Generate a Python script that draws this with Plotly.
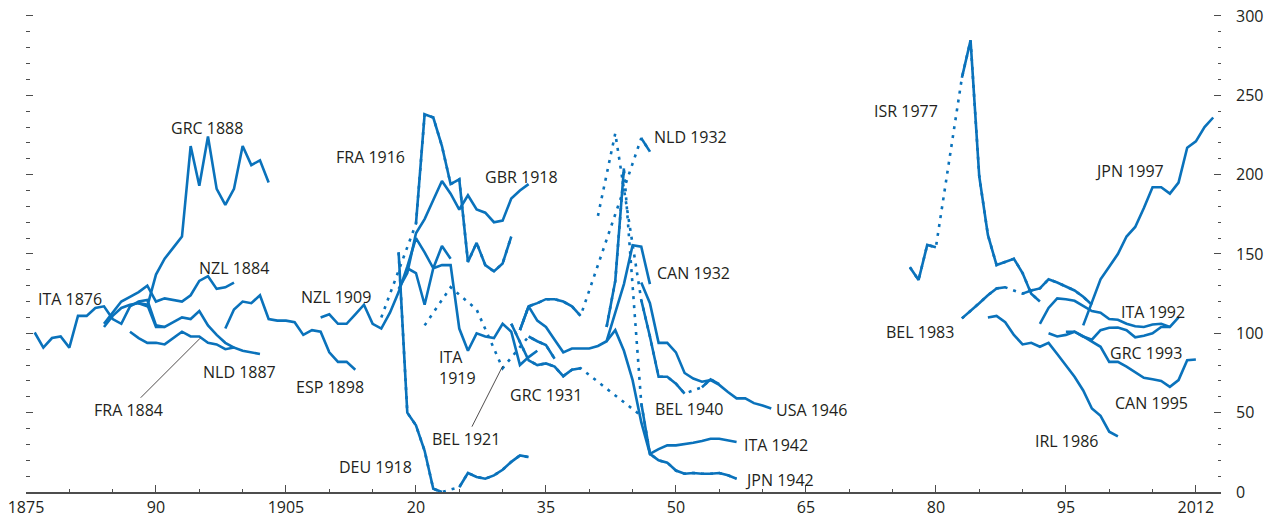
import plotly.graph_objects as go

# ---------------- data (public debt, % of GDP) ----------------
ITA_1876_start = 1876
ITA_1876 = [100.5, 91, 97, 98, 91, 111, 111, 116, 117, 109, 106, 117, 120, 121, 105, 104]
FRA_1884_start = 1884
FRA_1884 = [104, 111, 116, 118, 119, 118, 104, 104, 107, 110, 109, 114, 105, 99, 94, 91]
NZL_1884_start = 1884
NZL_1884 = [106, 113, 120, 123, 126, 130, 120, 122, 121, 120, 124, 133, 136, 128, 129, 132]
NLD_1887_start = 1887
NLD_1887 = [101, 97, 94, 94, 93, 97, 101, 98, 98, 94, 93, 90, 91, 89, 88, 87]
GRC_1888_start = 1888
GRC_1888 = [119, 117, 137, 147, 154, 161, 218, 193, 224, 191, 181, 191, 218, 206, 209, 195]
ESP_1898_start = 1898
ESP_1898 = [103, 115, 120, 119, 124, 109, 108, 108, 107, 99, 102, 101, 88, 82, 82, 77]
NZL_1909_start = 1909
NZL_1909 = [110, 112, 106, 106, 112, 118, 106, 103, 113, 126, 142, 160, 151, 141, 155, 147]
FRA_1916_start = 1916
FRA_1916 = [110, None, None, None, 169, 238, 236, 218, 194, 197, 145, 157, 143, 139, 144, 161]
GBR_1918_start = 1918
GBR_1918 = [128, 138, 163, 172, 184, 196, 188, 178, 187, 178, 176, 170, 171, 185, 190, 194]
DEU_1918_start = 1918
DEU_1918 = [151, 50, 42, 26, 2, 0, None, 3, 12, 9.5, 8.4, 10.5, 14, 19, 23, 22]
ITA_1919_start = 1919
ITA_1919 = [141, 138, 118, 141, 143, 143, 103, 89, 100, 98, 97, 106, 101, 80, 85, 89]
BEL_1921_start = 1921
BEL_1921 = [105, None, None, 129, None, None, 115, None, None, 78, None, None, 98, 95, 92.6, 84]
GRC_1931_start = 1931
GRC_1931 = [106, 95, 83, 80, 81, 79, 73, 77, 78, None, None, None, None, None, None, 48]
NLD_1932_start = 1932
NLD_1932 = [102, 117, 119, 121.5, 121.5, 120, 117, 111, None, None, None, None, None, None, 223, 214.5]
CAN_1932_start = 1932
CAN_1932 = [102, 117, 108, 104, 96, 88, 90.4, 90.4, 90.4, 92, 95, 113, 131, 155.5, 154.6, 131]
BEL_1940_start = 1940
BEL_1940 = [None, 174, None, 226, None, None, 121, 98, 72.6, 72.6, 68.3, 62, None, 66, 71, 68]
ITA_1942_start = 1942
ITA_1942 = [95, 102, 89, 70.5, 44, 24, 27, 29.4, 29.4, 30, 31, 32.2, 33.6, 33.6, 32.5, 31.5]
JPN_1942_start = 1942
JPN_1942 = [104, 133, 204, None, 56, 24, 20, 18.5, 13.5, 11.5, 12, 11.5, 11.5, 12, 10.5, 8.4]
USA_1946_start = 1946
USA_1946 = [132, 119, 94, 94, 88, 75, 71.5, 69.5, 70.5, 67.5, 63, 59, 59, 56, 54.5, 52.6]
ISR_1977_start = 1977
ISR_1977 = [141.6, 133.6, 155.7, 154.2, None, None, 261, 284.6, 199, 162, 143, 145, 147, 138, 125, 120]
BEL_1983_start = 1983
BEL_1983 = [109.4, 114, 119, 124, 128.3, 129, None, 125, 127, 128.3, 134, 132, 129.5, 127, 123, 118]
IRL_1986_start = 1986
IRL_1986 = [110, 111, 107, 99, 93, 94, 91.5, 94, 87, 80, 72.6, 64, 52.6, 48, 38, 35]
ITA_1992_start = 1992
ITA_1992 = [106, 116, 122, 121.5, 120.5, 117, 114, 113, 109, 108.5, 106, 104.5, 104, 105.5, 106, 104]
GRC_1993_start = 1993
GRC_1993 = [100, 98, 99, 101, 98, 96, 102, 103.5, 103.7, 102, 97.5, 98.5, 100, 104, 104, 110]
CAN_1995_start = 1995
CAN_1995 = [101, 101, 98, 95, 91.5, 82, 82, 79, 75.7, 72, 71, 70, 66.3, 70.5, 83, 83.5]
JPN_1997_start = 1997
JPN_1997 = [105, 119, 134, 142, 150, 161, 167, 179, 192, 192, 188, 195, 217, 221, 230, 236]

SERIES = [
    (ITA_1876_start, ITA_1876), (FRA_1884_start, FRA_1884), (NZL_1884_start, NZL_1884),
    (NLD_1887_start, NLD_1887), (GRC_1888_start, GRC_1888), (ESP_1898_start, ESP_1898),
    (NZL_1909_start, NZL_1909), (FRA_1916_start, FRA_1916), (GBR_1918_start, GBR_1918),
    (DEU_1918_start, DEU_1918), (ITA_1919_start, ITA_1919), (BEL_1921_start, BEL_1921),
    (GRC_1931_start, GRC_1931), (NLD_1932_start, NLD_1932), (CAN_1932_start, CAN_1932),
    (BEL_1940_start, BEL_1940), (ITA_1942_start, ITA_1942), (JPN_1942_start, JPN_1942),
    (USA_1946_start, USA_1946), (ISR_1977_start, ISR_1977), (BEL_1983_start, BEL_1983),
    (IRL_1986_start, IRL_1986), (ITA_1992_start, ITA_1992), (GRC_1993_start, GRC_1993),
    (CAN_1995_start, CAN_1995), (JPN_1997_start, JPN_1997),
]

# label text and anchor (year, value)
LABELS = [
    ("ITA 1876", 1880.1, 121.4), ("GRC 1888", 1895.9, 229.2), ("NZL 1884", 1899.0, 140.9),
    ("NLD 1887", 1899.6, 75.4), ("ESP 1898", 1910.1, 66.0), ("NZL 1909", 1910.8, 122.7),
    ("FRA 1916", 1914.7, 210.9), ("GBR 1918", 1932.2, 198.8), ("DEU 1918", 1915.3, 15.6),
    ("GRC 1931", 1935.0, 60.9), ("NLD 1932", 1951.7, 223.5), ("CAN 1932", 1952.0, 137.8),
    ("BEL 1940", 1951.5, 52.1), ("USA 1946", 1965.7, 51.5), ("ITA 1942", 1961.5, 29.4),
    ("JPN 1942", 1961.9, 7.4), ("ISR 1977", 1976.5, 239.9), ("JPN 1997", 2002.3, 202.0),
    ("ITA 1992", 2005.0, 113.4), ("BEL 1983", 1978.2, 100.6), ("GRC 1993", 2004.3, 87.4),
    ("CAN 1995", 2004.9, 55.9), ("IRL 1986", 1995.1, 31.9),
]
# labels with leader lines: (text, point year, point value, dx px, dy px)
POINTER_LABELS = [
    ("FRA 1884", 1895.1, 96.9, -72, 72),
    ("BEL 1921", 1930.0, 79.3, -37, 73),
]

X_TICKS = [1875, 1890, 1905, 1920, 1935, 1950, 1965, 1980, 1995, 2010]
X_TICKTEXT = ["1875", "90", "1905", "20", "35", "50", "65", "80", "95", "2012"]
Y_TICKS = [0, 50, 100, 150, 200, 250, 300]

BLUE = "#0a72bb"
TEXT = "#231f20"
AXIS = "#4d4d4d"
FONT = "Open Sans"

fig = go.Figure()

for start, vals in SERIES:
    years = [start + i for i in range(len(vals))]
    has_gap = any(v is None for v in vals)
    if has_gap:
        xs = [y for y, v in zip(years, vals) if v is not None]
        ys = [v for v in vals if v is not None]
        fig.add_trace(go.Scatter(x=xs, y=ys, mode="lines",
                                 line=dict(color=BLUE, width=2.6, dash="3px,6px"),
                                 hoverinfo="skip", showlegend=False))
    fig.add_trace(go.Scatter(x=years, y=vals, mode="lines", connectgaps=False,
                             line=dict(color=BLUE, width=2.6),
                             showlegend=False))

# empty trace to activate the right-hand axis
fig.add_trace(go.Scatter(x=[], y=[], xaxis="x", yaxis="y2", showlegend=False))

annotations = []
for text, x, y in LABELS:
    annotations.append(dict(x=x, y=y, text=text, showarrow=False,
                            xanchor="center", yanchor="middle",
                            font=dict(family=FONT, size=16, color=TEXT)))
annotations.append(dict(x=1922.42, y=78.6, text="ITA<br>1919", showarrow=False,
                        xanchor="left", yanchor="middle", align="left",
                        font=dict(family=FONT, size=16, color=TEXT)))
for text, x, y, dx, dy in POINTER_LABELS:
    annotations.append(dict(x=x, y=y, text=text, showarrow=True, arrowhead=0,
                            arrowwidth=0.8, arrowcolor=TEXT, ax=dx, ay=dy,
                            standoff=0, startstandoff=0,
                            font=dict(family=FONT, size=16, color=TEXT)))

XR = [1875, 2012.9]
YR = [0, 305]

fig.update_layout(
    width=1273, height=518,
    margin=dict(l=26, r=52, t=8, b=26, autoexpand=False),
    paper_bgcolor="white", plot_bgcolor="white",
    font=dict(family=FONT, size=16, color=TEXT),
    showlegend=False,
    annotations=annotations,
    xaxis=dict(range=XR, showgrid=False, zeroline=False, showline=True,
               automargin=False, ticklabeloverflow="allow",
               linecolor=AXIS, linewidth=1.5, tickmode="array",
               tickvals=X_TICKS, ticktext=X_TICKTEXT, ticks="inside",
               ticklen=7, tickwidth=1, tickcolor=AXIS,
               tickfont=dict(family=FONT, size=16, color=TEXT),
               minor=dict(tickmode="array",
                          tickvals=[v for v in range(1880, 2011, 5)],
                          ticks="inside", ticklen=3.5, tickwidth=1, tickcolor=AXIS)),
    yaxis=dict(range=YR, side="left", showgrid=False, zeroline=False,
               automargin=False,
               showline=False, showticklabels=False, tickmode="array",
               tickvals=Y_TICKS, ticks="inside", ticklen=7, tickwidth=1,
               tickcolor=AXIS,
               minor=dict(tickmode="linear", tick0=0, dtick=10, ticks="inside",
                          ticklen=3.5, tickwidth=1, tickcolor=AXIS)),
    yaxis2=dict(range=YR, overlaying="y", side="right", anchor="x",
                automargin=False, ticklabeloverflow="allow",
                showgrid=False, zeroline=False, showline=False,
                tickmode="array", tickvals=Y_TICKS, ticks="inside",
                ticklen=7, tickwidth=1, tickcolor=AXIS, ticklabelstandoff=14,
                tickfont=dict(family=FONT, size=16, color=TEXT),
                minor=dict(tickmode="linear", tick0=0, dtick=10, ticks="inside",
                           ticklen=3.5, tickwidth=1, tickcolor=AXIS)),
)

# remove the browser's default 8px body margin so the figure fills the window
fig.write_html("out.html",
               config={"displayModeBar": False},
               post_script="document.body.style.margin='0';document.body.style.padding='0';")
